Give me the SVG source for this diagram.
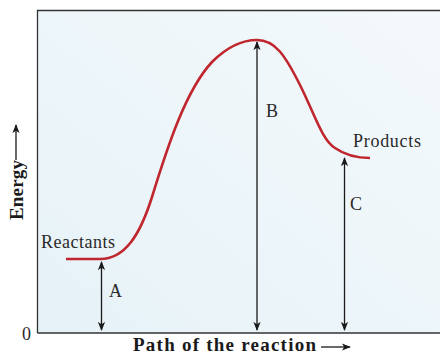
<svg xmlns="http://www.w3.org/2000/svg" width="440" height="355" viewBox="0 0 440 355">
<defs>
<linearGradient id="bg" x1="0" y1="1" x2="1" y2="0">
<stop offset="0" stop-color="#e6f2f8"/>
<stop offset="1" stop-color="#f4f9fb"/>
</linearGradient>
<marker id="ah" viewBox="0 0 10 10" refX="9" refY="5" markerWidth="9" markerHeight="9" markerUnits="userSpaceOnUse" orient="auto-start-reverse">
<path d="M0,1 L10,5 L0,9 L2.5,5 Z" fill="#1a1a1a"/>
</marker>
</defs>
<style>
.lbl{font-family:"Liberation Serif",serif;font-size:18px;fill:#2a2a2a}
.ax{font-family:"Liberation Serif",serif;font-size:19px;font-weight:bold;fill:#1a1a1a}
.arr{stroke:#1a1a1a;stroke-width:1.3;fill:none}
</style>
<rect width="440" height="355" fill="#ffffff"/>
<g id="frame">
<rect x="37.5" y="10.5" width="403" height="322.5" fill="url(#bg)"/>
<path d="M440,10.5 L37.5,10.5 L37.5,333" fill="none" stroke="#333" stroke-width="1.3"/>
<line x1="37.5" y1="333" x2="440" y2="333" stroke="#333" stroke-width="1.5"/>
</g>
<g id="curve">
<path d="M66,259 L100,259 C125,259 140,235 152,197 C168,145 186,90 212,62 C228,46 243,40 257,40 C275,40 285,55 300,85 C315,115 322,140 335,148 C345,155 355,158 370,158" fill="none" stroke="#c0262d" stroke-width="2.6"/>
</g>
<g id="connectors">
<line class="arr" x1="101.5" y1="262" x2="101.5" y2="330" marker-start="url(#ah)" marker-end="url(#ah)"/>
<line class="arr" x1="257" y1="42" x2="257" y2="330" marker-start="url(#ah)" marker-end="url(#ah)"/>
<line class="arr" x1="344.5" y1="158" x2="344.5" y2="330" marker-start="url(#ah)" marker-end="url(#ah)"/>
<line class="arr" x1="16" y1="160" x2="16" y2="125" marker-end="url(#ah)"/>
<line class="arr" x1="321" y1="347" x2="350" y2="347" marker-end="url(#ah)"/>
</g>
<g id="labels">
<text class="lbl" x="41" y="248" textLength="74" lengthAdjust="spacing">Reactants</text>
<text class="lbl" x="353" y="147" textLength="68" lengthAdjust="spacing">Products</text>
<text class="lbl" x="109" y="297">A</text>
<text class="lbl" x="266" y="117">B</text>
<text class="lbl" x="350" y="210">C</text>
<text class="lbl" x="22" y="340">0</text>
<text class="ax" x="133" y="351" font-size="18" textLength="183" lengthAdjust="spacing">Path of the reaction</text>
<text class="ax" transform="translate(22.5,220) rotate(-90)" x="0" y="0" textLength="60" lengthAdjust="spacing">Energy</text>
</g>
</svg>
